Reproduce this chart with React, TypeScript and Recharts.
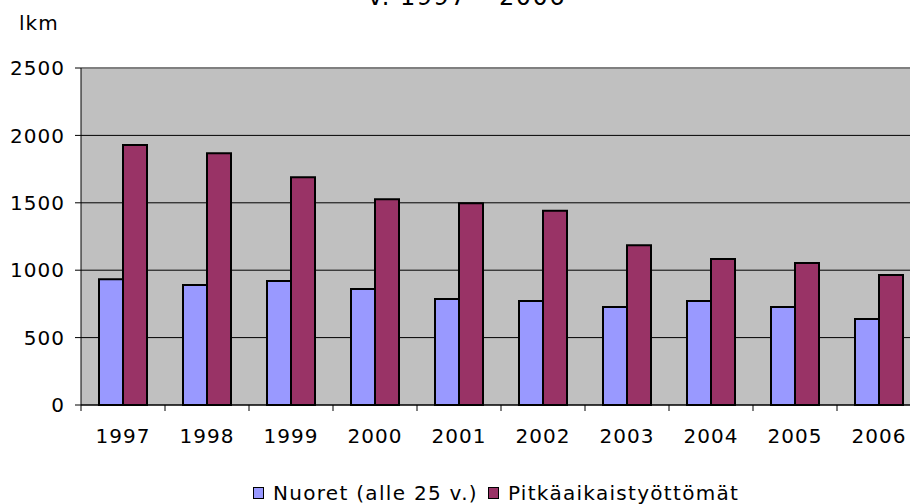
import React from 'react';
import {
  Bar,
  BarChart,
  CartesianGrid,
  ReferenceLine,
  XAxis,
  YAxis,
} from 'recharts';

const years = ['1997', '1998', '1999', '2000', '2001', '2002', '2003', '2004', '2005', '2006'];
const nuoret = [932, 890, 920, 860, 786, 771, 727, 771, 727, 638];
const pitkaaikais = [1929, 1867, 1689, 1526, 1496, 1441, 1185, 1083, 1053, 964];
const yTicks = [0, 500, 1000, 1500, 2000, 2500];

const seriesNames = ['Nuoret (alle 25 v.)', 'Pitkäaikaistyöttömät'];
const colors = ['#9999ff', '#993366'];

const data = years.map((y, i) => ({
  year: y,
  nuoret: nuoret[i],
  pitkaaikais: pitkaaikais[i],
}));

const font = '"DejaVu Sans", Verdana, sans-serif';
const chartW = 930;
const chartH = 504;
const margin = { top: 68, right: 9, left: 0, bottom: 69 };
const plotLeft = 81;
const band = (chartW - margin.right - plotLeft) / years.length;

const XTick = (props: any) => {
  const { x, y, payload } = props;
  const lx = x - band / 2;
  return (
    <g>
      <line x1={lx} y1={y - 8} x2={lx} y2={y - 2} stroke="#000" />
      <text
        x={x}
        y={y}
        dy={30}
        textAnchor="middle"
        fill="#000"
        fontSize={20}
        fontFamily={font}
        letterSpacing={1}
      >
        {payload.value}
      </text>
    </g>
  );
};

const LegendBox = () => (
  <div
    style={{
      position: 'absolute',
      left: 253,
      top: 480,
      display: 'flex',
      alignItems: 'center',
      fontFamily: font,
      fontSize: 20,
      lineHeight: '26px',
      letterSpacing: 1.3,
      color: '#000',
      whiteSpace: 'nowrap',
    }}
  >
    {seriesNames.map((n, i) => (
      <span key={n} style={{ display: 'flex', alignItems: 'center', marginRight: 10 }}>
        <span
          style={{
            display: 'inline-block',
            width: 9,
            height: 10,
            background: colors[i],
            border: '1px solid #000',
            marginRight: 9,
          }}
        />
        {n}
      </span>
    ))}
  </div>
);

const App = () => (
  <div
    style={{
      position: 'fixed',
      left: 0,
      top: 0,
      width: 910,
      height: 504,
      overflow: 'hidden',
      background: '#fff',
    }}
  >
    <BarChart
      width={chartW}
      height={chartH}
      data={data}
      margin={margin}
      barGap={0}
      barSize={24}
    >
      <CartesianGrid vertical={false} stroke="#000" fill="#c0c0c0" fillOpacity={1} />
      <ReferenceLine y={2500} stroke="#808080" strokeWidth={2} />
      <XAxis
        dataKey="year"
        stroke="#000"
        tickLine={false}
        tick={<XTick />}
        interval={0}
      />
      <YAxis
        width={plotLeft}
        domain={[0, 2500]}
        ticks={yTicks}
        interval={0}
        stroke="#000"
        tickSize={6}
        tickMargin={10}
        tick={{ fill: '#000', fontSize: 20, fontFamily: font, letterSpacing: 1 }}
      />
      <Bar
        dataKey="nuoret"
        name={seriesNames[0]}
        fill={colors[0]}
        stroke="#000"
        strokeWidth={2}
        isAnimationActive={false}
      />
      <Bar
        dataKey="pitkaaikais"
        name={seriesNames[1]}
        fill={colors[1]}
        stroke="#000"
        strokeWidth={2}
        isAnimationActive={false}
      />
    </BarChart>
    <LegendBox />
    <svg
      width={910}
      height={504}
      style={{ position: 'absolute', left: 0, top: 0, pointerEvents: 'none' }}
    >
      <text
        x={467}
        y={5}
        textAnchor="middle"
        fontSize={24}
        fontFamily={font}
        letterSpacing={1.5}
        fill="#000"
      >
        v. 1997 – 2006
      </text>
      <text x={19} y={30} fontSize={20} fontFamily={font} letterSpacing={1} fill="#000">
        lkm
      </text>
    </svg>
  </div>
);

export default App;
